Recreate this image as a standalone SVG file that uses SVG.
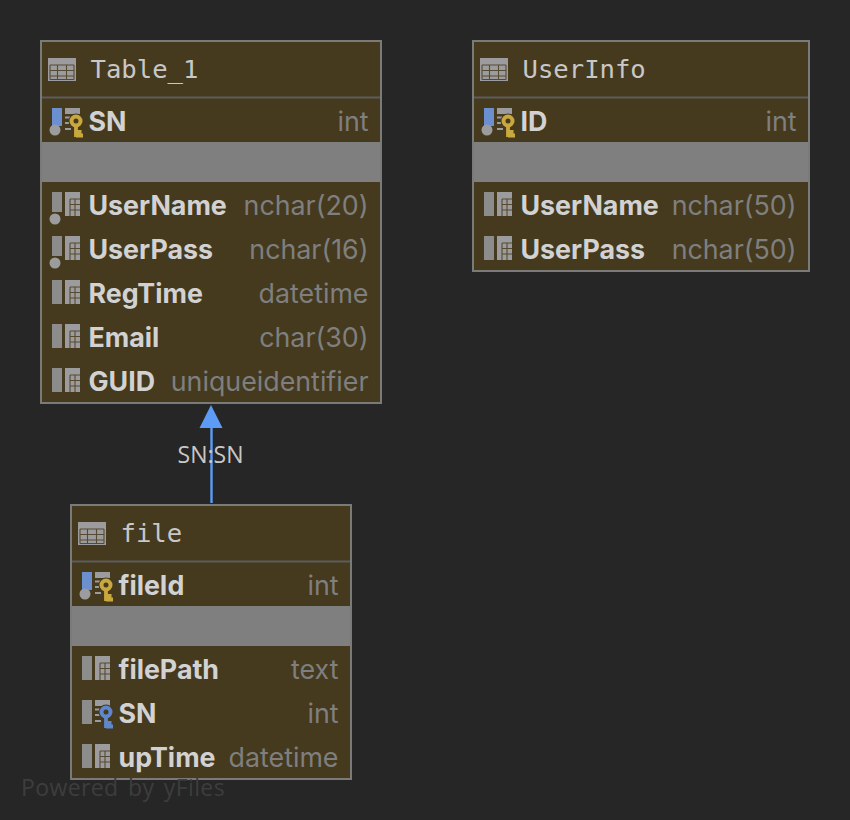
<svg xmlns="http://www.w3.org/2000/svg" width="850" height="820" viewBox="0 0 850 820">
<style>
.bg{fill:#262626}
.t{fill:#453a1e;stroke:#7a7a78;stroke-width:2}
.div{stroke:#5c5c5c;stroke-width:2}
.gap{fill:#7f7f7f}
.title{font:500 25.6px "DejaVu Sans Mono",monospace;fill:#c8c8c8}
.n{font:bold 26.8px Inter,"Liberation Sans",sans-serif;fill:#d2d2d2}
.ty{font:26.8px Inter,"Liberation Sans",sans-serif;fill:#7f7f7f;text-anchor:end}
.lab{font:23px "Open Sans","Liberation Sans",sans-serif;fill:#c8c8c8;text-anchor:middle}
.wm{font:23px "Open Sans","Liberation Sans",sans-serif;fill:#3d3d3d;letter-spacing:.4px;word-spacing:3px}
.ic{fill:#9c9c9e}
.bar{fill:#8c8c8c}
.gl{stroke:#564b30;stroke-width:1.1;fill:none}
.halo{fill:#453a1e;stroke:none}
</style>
<defs>
<g id="tbl">
<rect class="ic" x="0" y="0" width="28" height="23"/>
<path class="gl" d="M2 7H26M2 12.500H26M2 18H26M2 7V21.500M26 7V21.500M2 21.500H26M9.500 7V21.500M18.500 7V21.500"/>
</g>
<g id="grid">
<rect class="ic" x="13" y="0" width="15" height="24"/>
<path class="gl" d="M18 7H28M18 12.500H28M18 18H28M18 7V24M23 7V24"/>
</g>
<g id="col">
<rect class="bar" x="0" y="0" width="10" height="24"/>
<use href="#grid"/>
</g>
<g id="colnn">
<rect class="bar" x="0" y="0" width="10" height="20"/>
<circle class="ic" cx="3" cy="27" r="5.500"/>
<use href="#grid"/>
</g>
<g id="lines">
<rect class="ic" x="13" y="0" width="15" height="6"/>
<path d="M13 9.500H19M13 15H19M13 21H19" stroke="#9c9c9e" stroke-width="2"/>
</g>
<g id="key">
<circle class="halo" cx="0" cy="0" r="7.500"/>
<path class="halo" d="M-3 6H8V19H-3Z"/>
<circle cx="0" cy="0" r="4.500" fill="none" stroke-width="4"/>
<path d="M0 5V16M0 11H5.500M0 14.500H7" fill="none" stroke-width="3.800"/>
</g>
</defs>
<rect class="bg" width="850" height="820"/>
<g id="connectors">
<path d="M211.500 503V424" stroke="#5c9cf5" stroke-width="2.400" fill="none"/>
<path d="M211 405L199.500 428H222.500Z" fill="#5c9cf5"/>
<text class="lab" x="210.500" y="463">SN:SN</text>
</g>
<g id="Table_1">
<rect class="t" x="41" y="41" width="340" height="362"/>
<path class="div" d="M42 97.500H380"/>
<rect class="gap" x="42" y="142" width="338" height="40"/>
<use href="#tbl" x="48" y="58"/>
<text class="title" x="90.500" y="78">Table_1</text>
<rect x="52" y="108" width="10" height="18" fill="#6b8fcf"/>
<circle class="ic" cx="55" cy="130" r="5.500"/>
<use href="#lines" x="52" y="108"/>
<use href="#key" x="76" y="121" stroke="#c9a93f"/>
<text class="n" x="88.500" y="130.500">SN</text>
<text class="ty" x="368.500" y="130.500">int</text>
<use href="#colnn" x="52" y="192"/>
<text class="n" x="88.500" y="214.500">UserName</text>
<text class="ty" x="368.500" y="214.500">nchar(20)</text>
<use href="#colnn" x="52" y="236"/>
<text class="n" x="88.500" y="258.500">UserPass</text>
<text class="ty" x="368.500" y="258.500">nchar(16)</text>
<use href="#col" x="52" y="280"/>
<text class="n" x="88.500" y="302.500">RegTime</text>
<text class="ty" x="368.500" y="302.500">datetime</text>
<use href="#col" x="52" y="324"/>
<text class="n" x="88.500" y="346.500">Email</text>
<text class="ty" x="368.500" y="346.500">char(30)</text>
<use href="#col" x="52" y="368"/>
<text class="n" x="88.500" y="390.500">GUID</text>
<text class="ty" x="368.500" y="390.500">uniqueidentifier</text>
</g>
<g id="UserInfo">
<rect class="t" x="473" y="41" width="336" height="230"/>
<path class="div" d="M474 97.500H808"/>
<rect class="gap" x="474" y="142" width="334" height="40"/>
<use href="#tbl" x="480" y="58"/>
<text class="title" x="522.500" y="78">UserInfo</text>
<rect x="484" y="108" width="10" height="18" fill="#6b8fcf"/>
<circle class="ic" cx="487" cy="130" r="5.500"/>
<use href="#lines" x="484" y="108"/>
<use href="#key" x="508" y="121" stroke="#c9a93f"/>
<text class="n" x="520.500" y="130.500">ID</text>
<text class="ty" x="796.500" y="130.500">int</text>
<use href="#col" x="484" y="192"/>
<text class="n" x="520.500" y="214.500">UserName</text>
<text class="ty" x="796.500" y="214.500">nchar(50)</text>
<use href="#col" x="484" y="236"/>
<text class="n" x="520.500" y="258.500">UserPass</text>
<text class="ty" x="796.500" y="258.500">nchar(50)</text>
</g>
<g id="file">
<rect class="t" x="71" y="505" width="280" height="274"/>
<path class="div" d="M72 561.500H350"/>
<rect class="gap" x="72" y="606" width="278" height="40"/>
<use href="#tbl" x="78" y="522"/>
<text class="title" x="120.500" y="542">file</text>
<rect x="82" y="572" width="10" height="18" fill="#6b8fcf"/>
<circle class="ic" cx="85" cy="594" r="5.500"/>
<use href="#lines" x="82" y="572"/>
<use href="#key" x="106" y="585" stroke="#c9a93f"/>
<text class="n" x="118.500" y="594.500">fileId</text>
<text class="ty" x="338.500" y="594.500">int</text>
<use href="#col" x="82" y="656"/>
<text class="n" x="118.500" y="678.500">filePath</text>
<text class="ty" x="338.500" y="678.500">text</text>
<rect class="bar" x="82" y="700" width="10" height="24"/>
<use href="#lines" x="82" y="700"/>
<use href="#key" x="106" y="712" stroke="#5f87cc"/>
<text class="n" x="118.500" y="722.500">SN</text>
<text class="ty" x="338.500" y="722.500">int</text>
<use href="#col" x="82" y="744"/>
<text class="n" x="118.500" y="766.500">upTime</text>
<text class="ty" x="338.500" y="766.500">datetime</text>
</g>
<text class="wm" x="21" y="796">Powered by yFiles</text>
</svg>
